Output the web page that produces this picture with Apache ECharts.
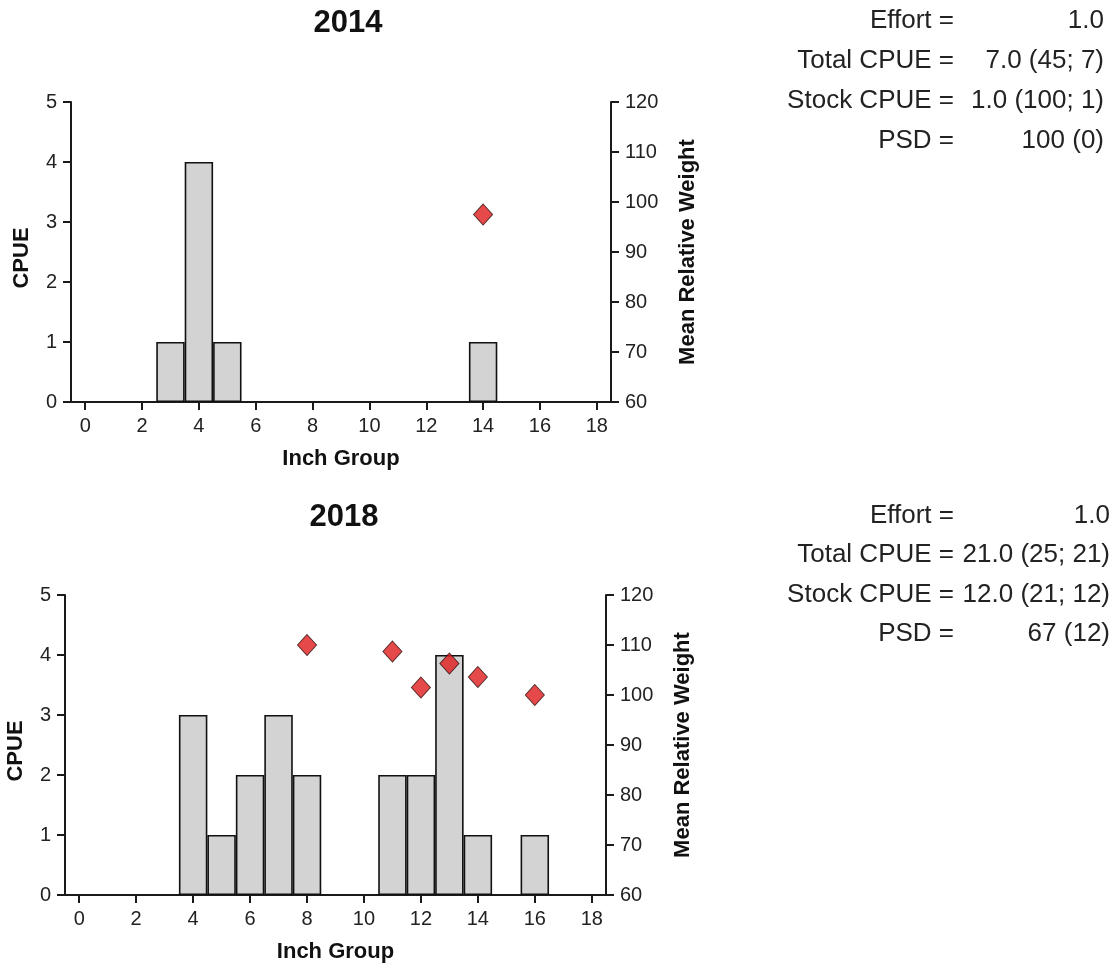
<!DOCTYPE html>
<html>
<head>
<meta charset="utf-8">
<script src="https://cdn.jsdelivr.net/npm/echarts@6/dist/echarts.min.js"></script>
<style>
html,body{margin:0;padding:0;background:#fff;}
#chart{width:1116px;height:967px;}
</style>
</head>
<body>
<div id="chart"></div>
<script>
// ---- data ----
var inchGroups = ['0','1','2','3','4','5','6','7','8','9','10','11','12','13','14','15','16','17','18'];
var cpueTicks = [0, 1, 2, 3, 4, 5];
var weightTicks = [60, 70, 80, 90, 100, 110, 120];

var titles = ['2014', '2018'];

// [inch group, CPUE]
var cpue2014 = [[3, 1], [4, 4], [5, 1], [14, 1]];
var cpue2018 = [[4, 3], [5, 1], [6, 2], [7, 3], [8, 2], [11, 2], [12, 2], [13, 4], [14, 1], [16, 1]];

// [inch group, mean relative weight]
var wr2014 = [[14, 97.5]];
var wr2018 = [[8, 110], [11, 108.7], [12, 101.5], [13, 106.3], [14, 103.6], [16, 100]];

var statLabels = ['Effort =', 'Total CPUE =', 'Stock CPUE =', 'PSD ='];
var stats2014 = ['1.0', '7.0 (45; 7)', '1.0 (100; 1)', '100 (0)'];
var stats2018 = ['1.0', '21.0 (25; 21)', '12.0 (21; 12)', '67 (12)'];

// ---- chart ----
var FONT = '"Liberation Sans", Arial, sans-serif';
var AXIS_COLOR = '#1a1a1a';
var NAME_STYLE = {fontFamily: FONT, fontWeight: 'bold', fontSize: 22, color: '#111'};

var grids = [
  {left: 71, top: 102, width: 540, height: 300},
  {left: 65, top: 595, width: 541, height: 300}
];

function xAxisFor(i) {
  return {
    type: 'category', gridIndex: i, data: inchGroups, boundaryGap: true,
    name: 'Inch Group', nameLocation: 'middle', nameGap: 46,
    nameTextStyle: NAME_STYLE,
    axisLine: {lineStyle: {color: AXIS_COLOR, width: 2}},
    axisTick: {show: true, alignWithLabel: true, interval: 1, length: 8, lineStyle: {color: AXIS_COLOR, width: 2}},
    axisLabel: {interval: 1, margin: 14, fontFamily: FONT, fontSize: 20, color: '#222'},
    splitLine: {show: false}
  };
}
function yLeftFor(i) {
  return {
    type: 'value', gridIndex: i, min: cpueTicks[0], max: cpueTicks[cpueTicks.length - 1], interval: 1,
    position: 'left',
    name: 'CPUE', nameLocation: 'middle', nameGap: 38,
    nameTextStyle: Object.assign({padding: [0, 12, 0, 0]}, NAME_STYLE),
    axisLine: {show: true, lineStyle: {color: AXIS_COLOR, width: 2}},
    axisTick: {show: true, length: 8, lineStyle: {color: AXIS_COLOR, width: 2}},
    axisLabel: {margin: 14, fontFamily: FONT, fontSize: 20, color: '#222'},
    splitLine: {show: false}
  };
}
function yRightFor(i) {
  return {
    type: 'value', gridIndex: i, min: weightTicks[0], max: weightTicks[weightTicks.length - 1], interval: 10,
    position: 'right',
    name: 'Mean Relative Weight', nameLocation: 'middle', nameGap: 66, nameRotate: 90,
    nameTextStyle: NAME_STYLE,
    axisLine: {show: true, lineStyle: {color: AXIS_COLOR, width: 2}},
    axisTick: {show: true, length: 8, lineStyle: {color: AXIS_COLOR, width: 2}},
    axisLabel: {margin: 14, fontFamily: FONT, fontSize: 20, color: '#222'},
    splitLine: {show: false}
  };
}

function barSeries(i, data) {
  return {
    type: 'bar', xAxisIndex: i, yAxisIndex: i * 2, data: data,
    barWidth: '100%', barGap: '-100%',
    itemStyle: {color: '#d3d3d3', borderColor: '#111', borderWidth: 1.6},
    silent: true
  };
}
function wrSeries(i, data) {
  return {
    type: 'scatter', xAxisIndex: i, yAxisIndex: i * 2 + 1, data: data,
    symbol: 'diamond', symbolSize: [19, 21],
    itemStyle: {color: '#e01c1c', borderColor: '#2a0a0a', borderWidth: 1},
    z: 5, silent: true
  };
}

function statTexts(labels, values, top, step, valueRight) {
  var els = [];
  for (var k = 0; k < labels.length; k++) {
    els.push({type: 'text', x: 954, y: top + k * step,
      style: {text: labels[k], font: '26px ' + FONT, fill: '#222', textAlign: 'right', textVerticalAlign: 'middle'}});
    els.push({type: 'text', x: valueRight, y: top + k * step,
      style: {text: values[k], font: '26px ' + FONT, fill: '#222', textAlign: 'right', textVerticalAlign: 'middle'}});
  }
  return els;
}

var titleEls = [
  {type: 'text', x: 348, y: 23, style: {text: titles[0], font: 'bold 31px ' + FONT, fill: '#111', textAlign: 'center', textVerticalAlign: 'middle'}},
  {type: 'text', x: 344, y: 517, style: {text: titles[1], font: 'bold 31px ' + FONT, fill: '#111', textAlign: 'center', textVerticalAlign: 'middle'}}
];

var option = {
  backgroundColor: '#fff',
  animation: false,
  grid: grids,
  xAxis: [xAxisFor(0), xAxisFor(1)],
  yAxis: [yLeftFor(0), yRightFor(0), yLeftFor(1), yRightFor(1)],
  series: [
    barSeries(0, cpue2014), wrSeries(0, wr2014),
    barSeries(1, cpue2018), wrSeries(1, wr2018)
  ],
  graphic: titleEls
    .concat(statTexts(statLabels, stats2014, 21, 40, 1104))
    .concat(statTexts(statLabels, stats2018, 516, 39.3, 1110))
};

var chart = echarts.init(document.getElementById('chart'), null, {renderer: 'canvas'});
chart.setOption(option);
</script>
</body>
</html>
